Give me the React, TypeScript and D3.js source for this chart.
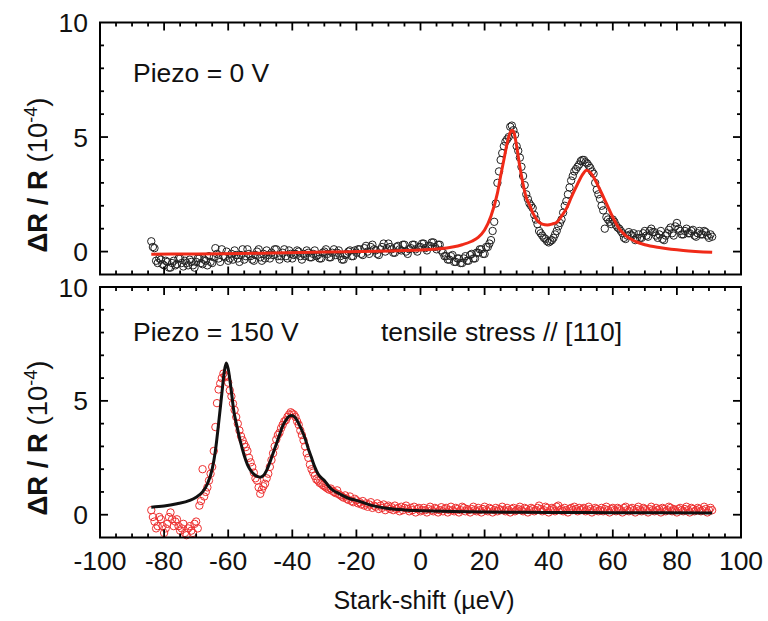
import React from 'react';
import * as d3 from 'd3';

// measured points start at -84 µeV, one every 0.5 µeV
const X_START = -84;
const X_STEP = 0.5;

// Piezo = 0 V (black circles)
const topDots = [
  0.45, 0.2, 0.15, -0.4, -0.5, -0.3, -0.35, -0.55, -0.6, -0.4,
  -0.45, -0.7, -0.7, -0.5, -0.4, -0.6, -0.55, -0.3, -0.3, -0.5,
  -0.65, -0.4, -0.5, -0.6, -0.35, -0.45, -0.6, -0.7, -0.45, -0.3,
  -0.3, -0.5, -0.55, -0.35, -0.4, -0.6, -0.2, -0.45, -0.5, -0.25,
  0.15, -0.1, -0.3, -0.45, 0.1, -0.2, -0.25, 0.0, -0.4, -0.3,
  -0.1, -0.35, 0.05, -0.15, -0.3, -0.45, -0.15, 0.1, -0.35, -0.2,
  0.1, -0.1, -0.2, -0.35, -0.4, -0.15, 0.0, 0.1, -0.25, -0.4,
  -0.1, -0.3, 0.05, -0.15, -0.3, -0.05, -0.15, 0.1, 0.1, -0.2,
  -0.35, -0.2, -0.05, 0.1, -0.2, -0.3, 0.05, -0.1, -0.3, -0.15,
  -0.1, 0.05, 0.0, -0.2, -0.35, -0.1, -0.2, 0.05, -0.05, -0.25,
  -0.25, -0.1, 0.05, -0.2, -0.15, -0.3, -0.3, -0.05, 0.0, 0.1,
  -0.1, -0.25, -0.25, -0.05, 0.1, -0.15, -0.05, 0.05, -0.2, -0.35,
  -0.35, -0.15, -0.1, 0.0, 0.05, -0.2, -0.2, 0.05, -0.05, 0.1,
  0.1, -0.1, -0.15, 0.15, 0.25, 0.0, -0.1, 0.2, 0.3, 0.1,
  0.05, -0.1, -0.15, 0.1, 0.2, 0.35, 0.0, 0.15, 0.35, 0.2,
  0.1, -0.05, -0.05, 0.2, 0.25, 0.1, 0.05, 0.3, 0.3, 0.0,
  -0.1, 0.1, 0.15, 0.3, 0.3, 0.1, 0.0, 0.2, 0.2, 0.35,
  0.35, 0.15, 0.05, 0.25, 0.25, 0.4, 0.4, 0.2, 0.1, 0.3,
  0.3, 0.05, -0.05, -0.2, -0.2, -0.35, -0.35, -0.2, -0.15, -0.45,
  -0.45, -0.3, -0.3, -0.5, -0.5, -0.3, -0.2, -0.4, -0.4, -0.15,
  -0.1, -0.3, -0.3, -0.05, -0.05, 0.1, 0.1, -0.1, -0.1, 0.2,
  0.2, 0.35, 0.5, 0.9, 1.3, 2.1, 3.0, 3.5, 4.0, 4.3,
  4.6, 4.8, 4.9, 5.0, 5.45, 5.5, 5.3, 5.1, 4.6, 4.4,
  4.1, 3.7, 3.3, 2.9, 2.5, 2.3, 2.1, 2.0, 1.9, 1.6,
  1.4, 1.2, 0.9, 0.8, 0.7, 0.6, 0.55, 0.45, 0.4, 0.45,
  0.5, 0.6, 0.75, 0.9, 1.1, 1.25, 1.4, 1.7, 2.0, 2.2,
  2.5, 2.8, 3.1, 3.3, 3.5, 3.6, 3.7, 3.8, 3.95, 4.0,
  4.0, 3.9, 3.85, 3.75, 3.65, 3.5, 3.4, 3.0, 2.7, 2.5,
  2.3, 2.0, 1.8, 1.0, 1.5, 1.4, 1.3, 1.2, 1.4, 1.3,
  1.15, 1.05, 1.0, 0.9, 0.8, 0.6, 0.55, 0.7, 0.85, 0.75,
  0.7, 0.8, 0.5, 0.6, 0.75, 0.6, 0.6, 0.8, 0.9, 0.7,
  0.65, 0.9, 1.0, 0.85, 0.85, 0.7, 0.6, 0.75, 0.9, 0.55,
  0.5, 0.7, 0.8, 0.95, 1.05, 0.8, 0.7, 1.1, 1.25, 1.0,
  0.9, 0.75, 0.75, 0.9, 1.0, 0.8, 0.8, 0.9, 0.95, 0.7,
  0.65, 0.8, 0.9, 0.75, 0.75, 0.9, 0.85, 0.7, 0.6, 0.75,
  0.65,
];

// Piezo = 150 V (red circles)
const bottomDots = [
  0.2, -0.1, -0.3, -0.6, -0.5, -0.1, -0.2, -0.5, -0.8, -0.6,
  -0.4, -0.1, 0.1, -0.2, -0.5, -0.3, -0.2, -0.5, -0.7, -0.6,
  -0.4, -0.8, -0.9, -0.6, -0.5, -0.7, -0.8, -0.4, -0.3, -0.6,
  0.4, 0.6, 2.0, 0.8, 1.0, 1.2, 1.5, 1.8, 2.1, 2.8,
  3.85, 4.9, 5.5, 5.76, 6.0, 6.2, 6.1, 6.05, 5.8, 5.46,
  5.2, 4.88, 4.6, 4.29, 4.0, 3.7, 3.45, 3.27, 3.1, 2.97,
  2.8, 2.5, 2.3, 2.1, 1.85, 1.6, 1.5, 1.2, 0.92, 1.1,
  1.25, 1.36, 1.6, 1.8, 2.1, 2.4, 2.7, 3.0, 3.3, 3.5,
  3.6, 3.8, 3.95, 4.1, 4.15, 4.3, 4.4, 4.5, 4.45, 4.4,
  4.29, 4.1, 3.95, 3.7, 3.5, 3.27, 3.0, 2.7, 2.5, 2.2,
  2.0, 1.85, 1.7, 1.55, 1.5, 1.4, 1.37, 1.3, 1.25, 1.2,
  1.15, 1.1, 1.15, 1.05, 1.0, 0.95, 1.07, 0.9, 0.85, 0.8,
  0.75, 0.85, 0.7, 0.65, 0.8, 0.6, 0.55, 0.7, 0.63, 0.5,
  0.55, 0.45, 0.6, 0.4, 0.5, 0.35, 0.45, 0.55, 0.3, 0.4,
  0.35, 0.5, 0.25, 0.4, 0.3, 0.45, 0.2, 0.35, 0.4, 0.25,
  0.33, 0.2, 0.4, 0.25, 0.3, 0.15, 0.35, 0.2, 0.3, 0.4,
  0.25, 0.15, 0.3, 0.2, 0.35, 0.1, 0.25, 0.3, 0.15, 0.2,
  0.3, 0.2, 0.1, 0.25, 0.35, 0.2, 0.15, 0.3, 0.25, 0.1,
  0.2, 0.33, 0.15, 0.25, 0.3, 0.1, 0.2, 0.35, 0.2, 0.15,
  0.3, 0.25, 0.1, 0.2, 0.35, 0.3, 0.15, 0.25, 0.2, 0.1,
  0.25, 0.35, 0.2, 0.15, 0.3, 0.2, 0.1, 0.25, 0.35, 0.2,
  0.15, 0.3, 0.25, 0.1, 0.2, 0.3, 0.15, 0.25, 0.2, 0.35,
  0.2, 0.15, 0.3, 0.2, 0.1, 0.25, 0.3, 0.15, 0.2, 0.25,
  0.35, 0.2, 0.15, 0.3, 0.25, 0.1, 0.2, 0.3, 0.25, 0.15,
  0.2, 0.3, 0.4, 0.25, 0.15, 0.2, 0.35, 0.3, 0.1, 0.2,
  0.3, 0.25, 0.15, 0.35, 0.4, 0.2, 0.25, 0.15, 0.3, 0.2,
  0.1, 0.25, 0.3, 0.2, 0.35, 0.25, 0.15, 0.3, 0.2, 0.25,
  0.3, 0.15, 0.2, 0.35, 0.25, 0.1, 0.2, 0.3, 0.25, 0.15,
  0.2, 0.3, 0.15, 0.25, 0.35, 0.2, 0.1, 0.25, 0.3, 0.2,
  0.15, 0.3, 0.25, 0.2, 0.1, 0.3, 0.35, 0.2, 0.15, 0.25,
  0.3, 0.2, 0.1, 0.25, 0.35, 0.2, 0.15, 0.3, 0.25, 0.2,
  0.1, 0.25, 0.35, 0.2, 0.15, 0.3, 0.2, 0.25, 0.1, 0.3,
  0.25, 0.15, 0.2, 0.35, 0.3, 0.15, 0.25, 0.2, 0.1, 0.25,
  0.3, 0.2, 0.15, 0.25, 0.35, 0.2, 0.1, 0.3, 0.25, 0.15,
  0.2, 0.3, 0.25, 0.15, 0.2, 0.35, 0.25, 0.1, 0.2, 0.3,
  0.2,
];

// fitted curves
const topFitX = [-84, -70, -50, -30, -10, 0, 6, 10, 13, 16, 18, 20, 22, 24, 25, 26, 27, 28, 28.6, 29.2, 30, 31, 32, 33, 34, 35, 36.5, 38, 39.6, 41, 42.7, 44, 45.8, 47, 49, 50.5, 51.8, 53, 54.2, 56, 58, 60, 62, 64, 67, 70, 75, 82, 91];
const topFitY = [-0.12, -0.1, -0.07, -0.02, 0.03, 0.07, 0.12, 0.2, 0.3, 0.45, 0.62, 0.94, 1.55, 2.55, 3.3, 4.0, 4.7, 5.2, 5.3, 5.18, 4.6, 3.7, 2.95, 2.35, 2.05, 1.7, 1.35, 1.2, 1.16, 1.2, 1.3, 1.55, 1.95, 2.35, 2.95, 3.35, 3.55, 3.45, 3.2, 2.7, 2.1, 1.5, 1.0, 0.7, 0.45, 0.3, 0.17, 0.05, -0.03];

const bottomFitX = [-84, -80, -76, -72, -70, -68, -66.5, -65, -64, -63, -62, -61.2, -60.6, -60, -59, -58.3, -57.3, -56.3, -55, -54, -53, -52, -51, -50, -49, -48, -47, -46, -45, -44, -43, -42, -41, -40.1, -39, -38, -37, -36, -35, -34, -33, -32, -30, -28, -25, -22, -20, -15, -10, -5, 0, 10, 20, 40, 60, 91];
const bottomFitY = [0.33, 0.38, 0.48, 0.63, 0.77, 1.0, 1.35, 2.0, 2.8, 4.0, 5.3, 6.3, 6.66, 6.4, 5.4, 4.6, 3.9, 3.27, 2.6, 2.2, 1.95, 1.78, 1.68, 1.65, 1.72, 1.95, 2.3, 2.7, 3.1, 3.5, 3.9, 4.15, 4.32, 4.36, 4.25, 4.0, 3.7, 3.35, 2.9, 2.5, 2.1, 1.8, 1.5, 1.15, 0.9, 0.7, 0.63, 0.4, 0.27, 0.21, 0.18, 0.14, 0.12, 0.1, 0.09, 0.08];

const xMajor = d3.range(-100, 101, 20);
const xMinor = d3.range(-100, 101, 5);
const yMajor = [0, 5, 10];
const yMinor = d3.range(-1, 11, 1);

const FONT = 'Liberation Sans, Arial, sans-serif';
const LEFT = 100;
const RIGHT = 741;

const x = d3.scaleLinear().domain([-100, 100]).range([LEFT, RIGHT]);

type PanelProps = {
  top: number;
  bottom: number;
  dots: number[];
  dotColor: string;
  fitX: number[];
  fitY: number[];
  fitColor: string;
  showXLabels: boolean;
  titleY: number;
};

const Panel = ({ top, bottom, dots, dotColor, fitX, fitY, fitColor, showXLabels, titleY }: PanelProps) => {
  const y = d3.scaleLinear().domain([-1, 10]).range([bottom, top]);
  const line = d3
    .line<number>()
    .x((_, i) => x(fitX[i]))
    .y((v) => y(v))
    .curve(d3.curveMonotoneX);

  return (
    <g>
      {/* measured points */}
      {dots.map((v, i) => (
        <circle
          key={i}
          cx={x(X_START + i * X_STEP)}
          cy={y(v)}
          r={3.7}
          fill="none"
          stroke={dotColor}
          strokeWidth={1}
        />
      ))}
      {/* fit */}
      <path d={line(fitY) || ''} fill="none" stroke={fitColor} strokeWidth={3} />

      {/* x ticks, top and bottom, inward */}
      {xMinor
        .filter((v) => v > -100 && v < 100)
        .map((v) => {
          const len = v % 20 === 0 ? 8 : 4;
          return (
            <g key={'x' + v} stroke="#000" strokeWidth={1.8}>
              <line x1={x(v)} x2={x(v)} y1={bottom} y2={bottom - len} />
              <line x1={x(v)} x2={x(v)} y1={top} y2={top + len} />
            </g>
          );
        })}
      {/* y ticks, left and right, inward */}
      {yMinor
        .filter((v) => v > -1 && v < 10)
        .map((v) => {
          const len = v % 5 === 0 ? 8 : 4;
          return (
            <g key={'y' + v} stroke="#000" strokeWidth={1.8}>
              <line x1={LEFT} x2={LEFT + len} y1={y(v)} y2={y(v)} />
              <line x1={RIGHT} x2={RIGHT - len} y1={y(v)} y2={y(v)} />
            </g>
          );
        })}
      <rect x={LEFT} y={top} width={RIGHT - LEFT} height={bottom - top} fill="none" stroke="#000" strokeWidth={2} />

      {yMajor.map((v) => (
        <text key={'yl' + v} x={88} y={y(v)} dy="0.36em" textAnchor="end" fontSize={26.5} fontFamily={FONT} fill="#111">
          {v}
        </text>
      ))}
      {showXLabels &&
        xMajor.map((v) => (
          <text key={'xl' + v} x={x(v)} y={570} textAnchor="middle" fontSize={26.5} fontFamily={FONT} fill="#111">
            {v}
          </text>
        ))}

      <text transform={`translate(47,${titleY}) rotate(-90)`} textAnchor="middle" fontSize={27.5} fontFamily={FONT} fill="#111">
        <tspan fontWeight="bold">ΔR / R</tspan>
        <tspan> (10</tspan>
        <tspan dy={-10} fontSize={18}>-4</tspan>
        <tspan dy={10}>)</tspan>
      </text>
    </g>
  );
};

const App = () => {
  return (
    <svg width={768} height={621} style={{ position: 'absolute', left: 0, top: 0, background: '#fff' }}>
      <Panel
        top={22.5}
        bottom={274.5}
        dots={topDots}
        dotColor="#222"
        fitX={topFitX}
        fitY={topFitY}
        fitColor="#f02a18"
        showXLabels={false}
        titleY={175}
      />
      <Panel
        top={287}
        bottom={537.5}
        dots={bottomDots}
        dotColor="#ee3030"
        fitX={bottomFitX}
        fitY={bottomFitY}
        fitColor="#111"
        showXLabels={true}
        titleY={438}
      />
      <text x={133} y={82} fontSize={26.5} fontFamily={FONT} fill="#111">Piezo = 0 V</text>
      <text x={133} y={341} fontSize={26.5} fontFamily={FONT} fill="#111">Piezo = 150 V</text>
      <text x={622} y={341} textAnchor="end" fontSize={26.5} fontFamily={FONT} fill="#111">tensile stress // [110]</text>
      <text x={424} y={609} textAnchor="middle" fontSize={25} fontFamily={FONT} fill="#111">Stark-shift (µeV)</text>
    </svg>
  );
};

export default App;
